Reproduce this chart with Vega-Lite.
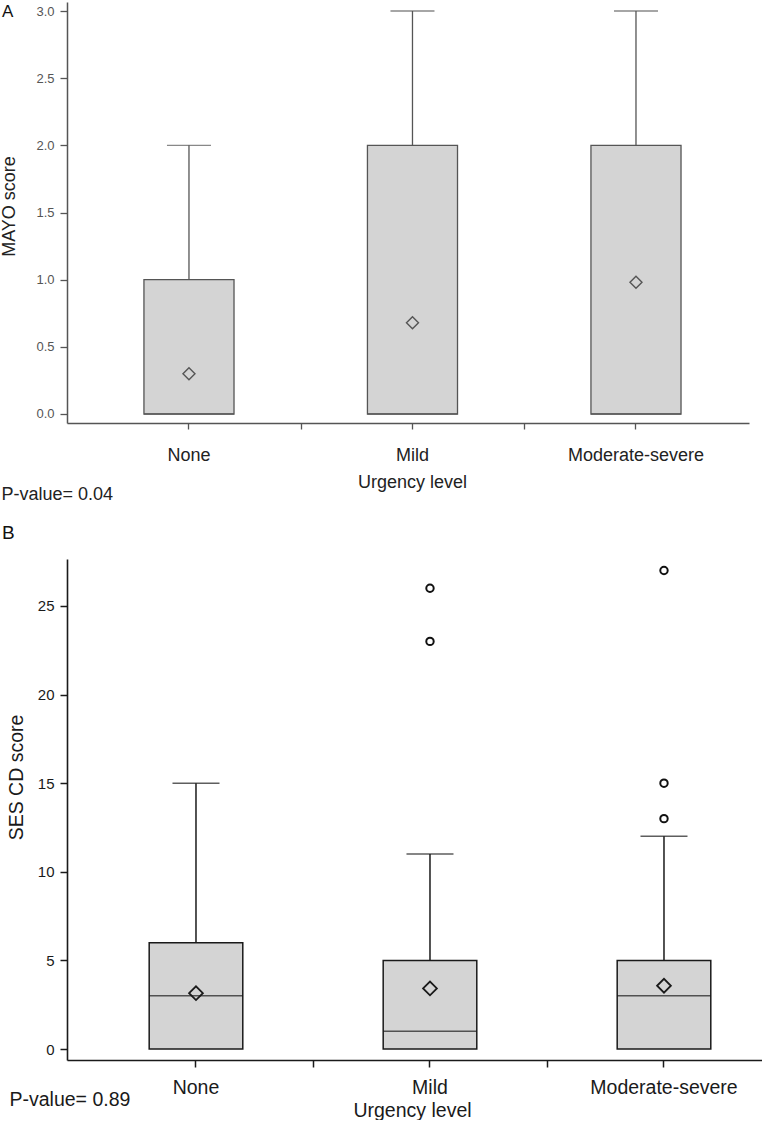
{
  "$schema": "https://vega.github.io/schema/vega-lite/v6.json",
  "padding": {"left": 0, "top": 2, "right": 0, "bottom": 0},
  "config": {"font": "Liberation Sans", "view": {"stroke": null}, "background": "white"},
  "spacing": 21,
  "vconcat": [
    {
      "width": 682,
      "height": 421,
      "title": {"text": "A", "anchor": "start", "frame": "group", "offset": 0, "dx": -65, "dy": 32.3, "baseline": "alphabetic", "fontSize": 17, "fontWeight": "normal", "color": "#111"},
      "data": {"values": [
        {"group": "None", "q1": 0, "median": 0, "q3": 1, "upper": 2, "mean": 0.3},
        {"group": "Mild", "q1": 0, "median": 0, "q3": 2, "upper": 3, "mean": 0.68},
        {"group": "Moderate-severe", "q1": 0, "median": 0, "q3": 2, "upper": 3, "mean": 0.98}
      ]},
      "resolve": {"axis": {"x": "independent"}},
      "layer": [
        {
          "mark": {"type": "bar", "fill": "#d4d4d4", "stroke": "#555", "strokeWidth": 1.3, "width": {"band": 0.403}},
          "encoding": {
            "x": {"field": "group", "type": "nominal",
              "scale": {"domain": ["None", "Mild", "Moderate-severe"], "paddingInner": 0, "paddingOuter": 0.0257, "align": 0.89},
              "axis": {"orient": "bottom", "title": "Urgency level", "titleFontSize": 18, "titleFontWeight": "normal", "titleColor": "#222", "titleX": 345, "titleY": 64, "titleBaseline": "alphabetic", "titleAlign": "center",
                "labelFontSize": 18, "labelColor": "#222", "labelPadding": 17, "labelAngle": 0, "tickSize": 6, "tickColor": "#555", "tickWidth": 1.3, "domainColor": "#555", "domainWidth": 1.5, "grid": false}},
            "y": {"field": "q1", "type": "quantitative", "title": "MAYO score",
              "scale": {"domain": [-0.067, 3.067], "nice": false, "zero": false},
              "axis": {"values": [0, 0.5, 1, 1.5, 2, 2.5, 3], "format": ".1f", "labelFontSize": 13, "labelColor": "#555", "tickSize": 7, "tickColor": "#555", "tickWidth": 1.3, "labelPadding": 6, "domainColor": "#555", "domainWidth": 1.5, "grid": false,
                "titleFontSize": 18, "titleFontWeight": "normal", "titleColor": "#222", "titleX": -58, "titleY": 204, "titleAngle": 270, "titleBaseline": "middle", "titleAlign": "center"}},
            "y2": {"field": "q3"}
          }
        },
        {
          "mark": {"type": "rule", "color": "#555", "strokeWidth": 1.3},
          "encoding": {
            "x": {"field": "group", "type": "nominal",
              "axis": {"orient": "bottom", "title": "P-value= 0.04", "titleFontSize": 18, "titleFontWeight": "normal", "titleColor": "#222", "titleX": -66, "titleY": 76, "titleAlign": "left", "titleBaseline": "alphabetic",
                "labels": false, "domain": false, "grid": false, "tickBand": "extent", "tickSize": 6, "tickColor": "#555", "tickWidth": 1.3,
                "tickOpacity": {"condition": {"test": "datum.extra || datum.value === 'Moderate-severe'", "value": 0}, "value": 1}}},
            "y": {"field": "q3", "type": "quantitative", "title": "MAYO score"},
            "y2": {"field": "upper"}
          }
        },
        {
          "mark": {"type": "tick", "color": "#555", "size": 44, "thickness": 1.3},
          "encoding": {
            "x": {"field": "group", "type": "nominal", "axis": null},
            "y": {"field": "upper", "type": "quantitative", "title": "MAYO score"}
          }
        },
        {
          "mark": {"type": "tick", "color": "#555", "size": 90, "thickness": 1.3},
          "encoding": {
            "x": {"field": "group", "type": "nominal", "axis": null},
            "y": {"field": "median", "type": "quantitative", "title": "MAYO score"}
          }
        },
        {
          "mark": {"type": "point", "shape": "diamond", "size": 144, "filled": false, "stroke": "#555", "strokeWidth": 1.4, "opacity": 1},
          "encoding": {
            "x": {"field": "group", "type": "nominal", "axis": null},
            "y": {"field": "mean", "type": "quantitative", "title": "MAYO score"}
          }
        }
      ]
    },
    {
      "width": 724,
      "height": 501,
      "title": {"text": "B", "anchor": "start", "frame": "group", "offset": 0, "dx": -65, "dy": -1, "baseline": "alphabetic", "fontSize": 19, "fontWeight": "normal", "color": "#111"},
      "data": {"values": [
        {"group": "None", "q1": 0, "median": 3, "q3": 6, "upper": 15, "mean": 3.15},
        {"group": "Mild", "q1": 0, "median": 1, "q3": 5, "upper": 11, "mean": 3.42},
        {"group": "Moderate-severe", "q1": 0, "median": 3, "q3": 5, "upper": 12, "mean": 3.57}
      ]},
      "resolve": {"axis": {"x": "independent"}},
      "layer": [
        {
          "mark": {"type": "bar", "fill": "#d4d4d4", "stroke": "#1a1a1a", "strokeWidth": 1.5, "width": {"band": 0.4}},
          "encoding": {
            "x": {"field": "group", "type": "nominal",
              "scale": {"domain": ["None", "Mild", "Moderate-severe"], "paddingInner": 0, "paddingOuter": 0.047, "align": 0.545},
              "axis": {"orient": "bottom", "title": "Urgency level", "titleFontSize": 19.5, "titleFontWeight": "normal", "titleColor": "#1a1a1a", "titleX": 345, "titleY": 56, "titleBaseline": "alphabetic", "titleAlign": "center",
                "labelFontSize": 19.5, "labelColor": "#1a1a1a", "labelPadding": 11, "labelAngle": 0, "tickSize": 7, "tickColor": "#1a1a1a", "tickWidth": 1.5, "domainColor": "#1a1a1a", "domainWidth": 1.6, "grid": false}},
            "y": {"field": "q1", "type": "quantitative", "title": "SES CD score",
              "scale": {"domain": [-0.62, 27.65], "nice": false, "zero": false},
              "axis": {"values": [0, 5, 10, 15, 20, 25], "labelFontSize": 15, "labelColor": "#1a1a1a", "tickSize": 7, "tickColor": "#1a1a1a", "tickWidth": 1.5, "labelPadding": 6, "domainColor": "#1a1a1a", "domainWidth": 1.6, "grid": false,
                "titleFontSize": 19.5, "titleFontWeight": "normal", "titleColor": "#1a1a1a", "titleX": -51, "titleY": 218, "titleAngle": 270, "titleBaseline": "middle", "titleAlign": "center"}},
            "y2": {"field": "q3"}
          }
        },
        {
          "mark": {"type": "rule", "color": "#1a1a1a", "strokeWidth": 1.5},
          "encoding": {
            "x": {"field": "group", "type": "nominal",
              "axis": {"orient": "bottom", "title": "P-value= 0.89", "titleFontSize": 19.5, "titleFontWeight": "normal", "titleColor": "#1a1a1a", "titleX": -58, "titleY": 45, "titleAlign": "left", "titleBaseline": "alphabetic",
                "labels": false, "domain": false, "grid": false, "tickBand": "extent", "tickSize": 7, "tickColor": "#1a1a1a", "tickWidth": 1.5,
                "tickOpacity": {"condition": {"test": "datum.extra || datum.value === 'Moderate-severe'", "value": 0}, "value": 1}}},
            "y": {"field": "q3", "type": "quantitative", "title": "SES CD score"},
            "y2": {"field": "upper"}
          }
        },
        {
          "mark": {"type": "tick", "color": "#1a1a1a", "size": 47, "thickness": 1.5},
          "encoding": {
            "x": {"field": "group", "type": "nominal", "axis": null},
            "y": {"field": "upper", "type": "quantitative", "title": "SES CD score"}
          }
        },
        {
          "mark": {"type": "tick", "color": "#1a1a1a", "size": 94, "thickness": 1.5},
          "encoding": {
            "x": {"field": "group", "type": "nominal", "axis": null},
            "y": {"field": "median", "type": "quantitative", "title": "SES CD score"}
          }
        },
        {
          "mark": {"type": "point", "shape": "diamond", "size": 190, "filled": false, "stroke": "#1a1a1a", "strokeWidth": 1.8, "opacity": 1},
          "encoding": {
            "x": {"field": "group", "type": "nominal", "axis": null},
            "y": {"field": "mean", "type": "quantitative", "title": "SES CD score"}
          }
        },
        {
          "data": {"values": [
            {"group": "Mild", "value": 23},
            {"group": "Mild", "value": 26},
            {"group": "Moderate-severe", "value": 13},
            {"group": "Moderate-severe", "value": 15},
            {"group": "Moderate-severe", "value": 27}
          ]},
          "mark": {"type": "point", "shape": "circle", "size": 55, "filled": false, "stroke": "#111", "strokeWidth": 2, "opacity": 1},
          "encoding": {
            "x": {"field": "group", "type": "nominal", "axis": null},
            "y": {"field": "value", "type": "quantitative", "title": "SES CD score"}
          }
        }
      ]
    }
  ]
}
